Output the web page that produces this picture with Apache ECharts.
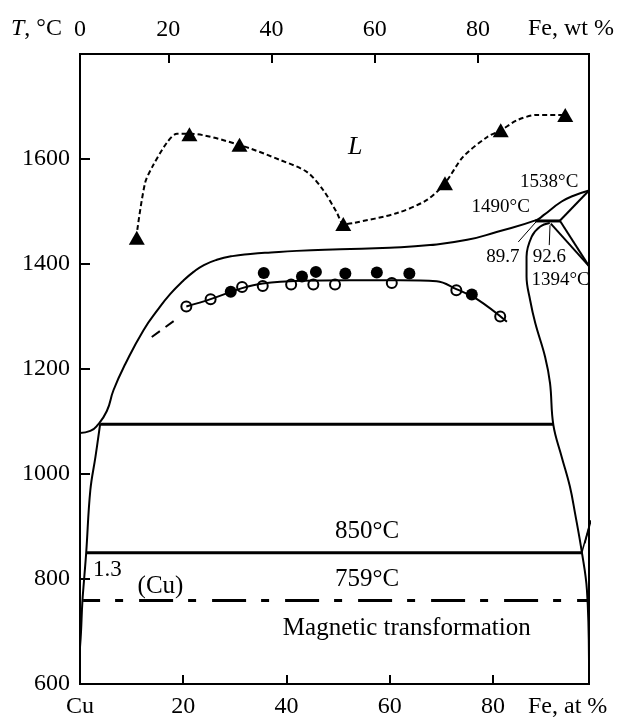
<!DOCTYPE html>
<html>
<head>
<meta charset="utf-8">
<script src="https://cdn.jsdelivr.net/npm/echarts@6/dist/echarts.min.js"></script>
<style>
html,body{margin:0;padding:0;background:#fff;}
#tu{width:626px;height:719px;}
</style>
</head>
<body>
<div id="tu"></div>
<script>
// Cu-Fe phase diagram, x = Fe at %, y = T °C
var atTicks = [0, 20, 40, 60, 80];
var wtTicks = [20, 40, 60, 80];

// triangles (liquid miscibility data) and dashed guide
var triPoints = [[11.0,1450],[21.2,1647],[30.9,1627],[51.0,1476],[70.7,1554],[81.5,1655],[94.0,1684]];
var triCurve = [[11.1,1465],[12.6,1554],[14.0,1585],[16.9,1632],[18.8,1648],[21.2,1648],[30.8,1627],[38.8,1598],[44.0,1575],[47.1,1541],[49.8,1497],[51.0,1476],[52.9,1478],[61.4,1497],[67.2,1522],[70.7,1554],[74.2,1604],[78.9,1642],[81.6,1655],[84.7,1674],[88.6,1684],[94.0,1684]];

// circles
var openCircles = [[20.6,1319],[25.3,1333],[31.4,1356],[35.4,1358],[40.9,1361],[45.2,1361],[49.4,1361],[60.4,1364],[72.9,1350],[81.4,1300]];
var filledCircles = [[29.2,1347],[35.6,1383],[43.0,1376],[45.7,1385],[51.4,1382],[57.5,1384],[63.8,1382],[75.9,1342]];
var circleCurve = [[20.6,1319],[25.3,1333],[31.4,1354],[35.4,1363],[42.7,1368],[52.3,1369],[62.0,1369],[69.1,1367],[72.9,1352],[76.9,1333],[82.7,1290]];
var circleDash = [[13.9,1261],[18.4,1293]];

// phase boundaries
var liquidus = [[0,1078],[2.0,1082],[3.3,1092],[5.2,1120],[6.5,1160],[8.8,1210],[12.3,1274],[15.0,1312],[17.5,1343],[20.0,1368],[22.0,1385],[24.0,1398],[26.5,1408],[29.5,1415],[33.0,1419],[37.0,1422],[42.0,1425],[50.4,1428],[60.0,1431],[67.8,1436],[75.0,1446],[80.7,1461],[88.5,1484],[89.8,1493],[93.3,1519],[95.6,1530],[98.6,1540]];
var cuSolvus = [[3.9,1095],[3.0,1033],[2.0,969],[1.2,850],[0.8,800],[0.45,755],[0.2,700],[0,670]];
var gammaLoop = [[91.0,1478],[89.1,1471],[87.5,1452],[86.5,1414],[86.5,1376],[87.2,1331],[88.2,1287],[90.1,1223],[91.05,1173],[91.7,1093],[93.3,1033],[94.9,976],[95.9,925],[97.2,852],[98.2,779],[98.6,645]];
var deltaSolidus = [[92.9,1482],[98.6,1540]];
var peritectic = [[88.2,1482],[93.0,1482]];
var deltaGamma1 = [[93.0,1482],[98.6,1396]];
var deltaGamma2 = [[91.2,1477],[98.6,1396]];
var alphaA = [[97.2,850],[98.6,900]];
var alphaB = [[97.8,868],[99.0,912]];
var line1096 = [[3.9,1095],[91.7,1095]];
var line850 = [[1.2,850],[97.2,850]];
var line759 = [[0.6,759],[98.6,759]];
var leader897 = [[84.9,1442],[88.5,1482]];
var leader926 = [[91.05,1474],[90.9,1436]];

// text annotations [x, T, text]
var bigLabels = [[55.6,890,'850°C'],[55.6,799,'759°C'],[63.3,706,'Magnetic transformation'],[15.6,785,'(Cu)']];
var smallLabels = [[90.9,1557,'1538°C'],[81.5,1509,'1490°C'],[81.9,1414,'89.7'],[90.9,1414,'92.6'],[93.1,1370,'1394°C']];
var midLabels = [[5.3,817,'1.3']];
var italicLabels = [[53.3,1623,'L']];

var FONT = 'Liberation Serif';

function xian(data, w, type, smooth, extra) {
    var s = {
        type: 'line', data: data, symbol: 'none', silent: true, clip: false,
        smooth: smooth || false,
        lineStyle: { color: '#000', width: w, type: type || 'solid', opacity: 1 }
    };
    if (extra) { for (var k in extra) s.lineStyle[k] = extra[k]; }
    return s;
}
function wenzi(arr, size, italic) {
    return {
        type: 'scatter', symbolSize: 0, silent: true, clip: false,
        itemStyle: { opacity: 1 },
        data: arr.map(function (a) { return { value: [a[0], a[1]], name: a[2] }; }),
        label: {
            show: true, position: 'inside', color: '#000', opacity: 1,
            fontFamily: FONT, fontSize: size, fontStyle: italic ? 'italic' : 'normal',
            formatter: function (p) { return p.name; }
        }
    };
}

var tu = echarts.init(document.getElementById('tu'), null, { renderer: 'canvas' });

var option = {
    animation: false,
    backgroundColor: '#fff',
    textStyle: { fontFamily: FONT, color: '#000' },
    grid: { left: 80, right: 37, top: 54, bottom: 35, show: true, borderColor: '#000', borderWidth: 2 },
    xAxis: [
        {
            type: 'value', position: 'bottom', min: 0, max: 98.6, interval: 20,
            axisLine: { lineStyle: { color: '#000', width: 2 } },
            axisTick: { inside: true, length: 9, lineStyle: { color: '#000', width: 2 }, customValues: wtTicks },
            axisLabel: {
                customValues: atTicks, margin: 11, fontSize: 24, fontFamily: FONT, color: '#000',
                formatter: function (v) { return v === 0 ? 'Cu' : String(v); }
            },
            splitLine: { show: false }
        },
        {
            type: 'value', position: 'top', min: 2.9, max: 101.5,
            axisLine: { lineStyle: { color: '#000', width: 2 } },
            axisTick: { inside: true, length: 9, lineStyle: { color: '#000', width: 2 }, customValues: wtTicks },
            axisLabel: {
                customValues: [2.9].concat(wtTicks), margin: 12, fontSize: 24, fontFamily: FONT, color: '#000',
                formatter: function (v) { return v < 10 ? '0' : String(v); }
            },
            splitLine: { show: false }
        }
    ],
    yAxis: {
        type: 'value', min: 600, max: 1800, interval: 200,
        axisLine: { lineStyle: { color: '#000', width: 2 } },
        axisTick: { inside: true, length: 10, lineStyle: { color: '#000', width: 2 } },
        axisLabel: {
            margin: 10, fontSize: 24, fontFamily: FONT, color: '#000', showMaxLabel: false,
            formatter: function (v) { return String(v); }
        },
        splitLine: { show: false }
    },
    graphic: [
        { type: 'text', left: 11, top: 17, style: { text: '{i|T}, °C', fontFamily: FONT, fontSize: 24, fill: '#000', rich: { i: { fontStyle: 'italic', fontFamily: FONT, fontSize: 24 } } } },
        { type: 'text', left: 528, top: 17, style: { text: 'Fe, wt %', fontFamily: FONT, fontSize: 24, fill: '#000' } },
        { type: 'text', left: 528, top: 695, style: { text: 'Fe, at %', fontFamily: FONT, fontSize: 24, fill: '#000' } }
    ],
    series: [
        xian(triCurve, 2, [5, 3], 0.3),
        xian(liquidus, 2, 'solid', 0.5),
        xian(cuSolvus, 2, 'solid', 0.4),
        xian(gammaLoop, 2, 'solid', 0.4),
        xian(deltaSolidus, 2),
        xian(peritectic, 3),
        xian(deltaGamma1, 2),
        xian(deltaGamma2, 2),
        xian(alphaA, 1.5),
        xian(alphaB, 1.5),
        xian(line1096, 3),
        xian(line850, 3),
        xian(line759, 3, [34, 15, 8, 16], false, { dashOffset: 17 }),
        xian(leader897, 1),
        xian(leader926, 1),
        xian(circleCurve, 2, 'solid', 0.4),
        xian(circleDash, 2, [10, 7]),
        {
            type: 'scatter', data: triPoints, symbol: 'triangle', symbolSize: [16, 14], silent: true,
            itemStyle: { color: '#000', opacity: 1 }
        },
        {
            type: 'scatter', data: openCircles, symbol: 'circle', symbolSize: 10, silent: true,
            itemStyle: { color: '#fff', borderColor: '#000', borderWidth: 2, opacity: 1 }
        },
        {
            type: 'scatter', data: filledCircles, symbol: 'circle', symbolSize: 12, silent: true,
            itemStyle: { color: '#000', opacity: 1 }
        },
        wenzi(bigLabels, 25),
        wenzi(smallLabels, 19),
        wenzi(midLabels, 23),
        wenzi(italicLabels, 26, true)
    ]
};

tu.setOption(option);
</script>
</body>
</html>
